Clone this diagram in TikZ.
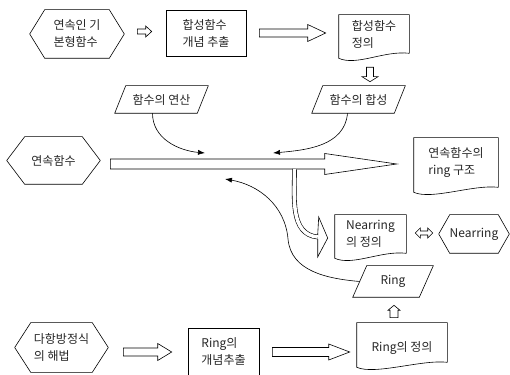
\documentclass[tikz,border=0pt]{standalone}
\usepackage{fontspec}
\setmainfont{Noto Sans CJK KR}
\usetikzlibrary{calc, arrows.meta}

\begin{document}
\begin{tikzpicture}[x=1pt, y=1pt, line width=0.6pt,
  every node/.style={font=\fontsize{12}{17}\selectfont, align=left, inner sep=0pt, text=black!85},
  hexa/.style={},
  docu/.style={},
  para/.style={minimum height=27},
  boxed/.style={draw},
  thinarrow/.style={-{Latex[length=7pt,width=5pt]}}
  ]
  \useasboundingbox (0,0) rectangle (510,374);

  \node[hexa, minimum width=94, minimum height=48] (h1) at (77,340) {연속인 기\\본형함수};
  \node[boxed, minimum width=80, minimum height=46] (r1) at (206,341) {합성함수\\개념 추출};
  \node[docu, minimum width=70, minimum height=38] (d1) at (374,340) {합성함수\\정의};
  \node[para, minimum width=82] (p1) at (161.5,274.5) {함수의 연산};
  \node[para, minimum width=82] (p2) at (358.5,274.5) {함수의 합성};
  \node[hexa, minimum width=93, minimum height=47] (h2) at (53.5,213.5) {연속함수};
  \node[docu, minimum width=84, minimum height=49] (d2) at (456,211.5) {연속함수의\\ring 구조};
  \node[docu, minimum width=71, minimum height=38] (d3) at (370.5,140) {Nearring\\의 정의};
  \node[hexa, minimum width=70, minimum height=38] (h3) at (474,140) {Nearring};
  \node[para, minimum width=66, minimum height=31] (p3) at (393,92.5) {Ring};
  \node[docu, minimum width=90, minimum height=39, text height=20] (d4) at (402,31.5) {Ring의 정의};
  \node[hexa, minimum width=93, minimum height=49] (h4) at (61.5,26.5) {다항방정식\\의 해법};
  \node[boxed, minimum width=71, minimum height=47] (r2) at (223.5,22.5) {Ring의\\개념추출};

  % outlines
  \foreach \n/\c in {h1/15, h2/18, h3/11, h4/16}
    \draw (\n.west) -- ([xshift=\c]\n.north west) -- ([xshift=-\c]\n.north east) -- (\n.east)
      -- ([xshift=-\c]\n.south east) -- ([xshift=\c]\n.south west) -- cycle;
  \foreach \n/\k in {p1/5.5, p2/5.5, p3/7}
    \draw ([xshift=-\k]\n.south west) -- ([xshift=-\k]\n.south east) -- ([xshift=\k]\n.north east)
      -- ([xshift=\k]\n.north west) -- cycle;
  \foreach \n in {d1,d2,d3,d4}
    \draw (\n.south east) -- (\n.north east) -- (\n.north west) -- ([yshift=-5]\n.south west)
      .. controls ([shift={(18,-13)}]\n.south west) and ([shift={(-25,3)}]\n.south east) .. (\n.south east);

  % block arrows
  \foreach \a/\b/\ga/\gb/\dy/\sh/\hd/\hl in {h1/r1/13/14/2.5/2.5/5.5/6, r1/d1/13/13/0/4/8.5/18,
      h2/d2/10/17/-3.5/5/10.5/72, h4/r2/15/16/-4.5/4/8.5/14, r2/d4/13/7/-0.5/4.5/8/21}
    \draw let \p1=(\a.east), \p2=(\b.west) in
      (\x1+\ga,\y1+\dy+\sh) -- (\x2-\gb-\hl,\y1+\dy+\sh) -- (\x2-\gb-\hl,\y1+\dy+\hd) -- (\x2-\gb,\y1+\dy)
      -- (\x2-\gb-\hl,\y1+\dy-\hd) -- (\x2-\gb-\hl,\y1+\dy-\sh) -- (\x1+\ga,\y1+\dy-\sh) -- cycle;
  \draw let \p1=(d1.south), \p2=(p2.north), \n1={\x1-4} in
    (\n1-3.5,\y1-14) -- (\n1-3.5,\y2+9) -- (\n1-8,\y2+9) -- (\n1,\y2+4) -- (\n1+8,\y2+9)
    -- (\n1+3.5,\y2+9) -- (\n1+3.5,\y1-14) -- cycle;
  \draw let \p1=(d4.north), \p2=(p3.south), \n1={\x1-8} in
    (\n1-4,\y1+5) -- (\n1-4,\y2-13) -- (\n1-6,\y2-13) -- (\n1,\y2-8) -- (\n1+6,\y2-13)
    -- (\n1+4,\y2-13) -- (\n1+4,\y1+5) -- cycle;
  \draw let \p1=(d3.east), \p2=(h3.west) in
    (\x1+9,\y1+1) -- (\x1+14,\y1+6) -- (\x1+14,\y1+3) -- (\x2-11,\y1+3) -- (\x2-11,\y1+6)
    -- (\x2-6,\y1+1) -- (\x2-11,\y1-4) -- (\x2-11,\y1-1) -- (\x1+14,\y1-1) -- (\x1+14,\y1-4) -- cycle;

  \coordinate (cs) at (294.5,205);
  \coordinate (ce) at ([shift={(-17,-3)}]d3.west);
  \draw[double distance=3.5pt] (cs) to[out=-90,in=175] (ce);
  \draw ([yshift=2.2]ce) -- ([shift={(1,20)}]ce) -- ([shift={(10,-1)}]ce) -- ([yshift=-20]ce) -- ([yshift=-2.2]ce);

  % thin arrows
  \coordinate (ta) at (205,221);
  \coordinate (tb) at (273,221);
  \coordinate (tc) at (225,195);
  \coordinate (cm) at (288,135);
  \draw[thinarrow] ([xshift=-9]p1.south) to[out=-90,in=175] (ta);
  \draw[thinarrow] ([xshift=-11]p2.south) to[out=-95,in=5] (tb);
  \draw[thinarrow] (p3.west) to[out=175,in=-85] (cm) to[out=95,in=-10] (tc);
\end{tikzpicture}
\end{document}
